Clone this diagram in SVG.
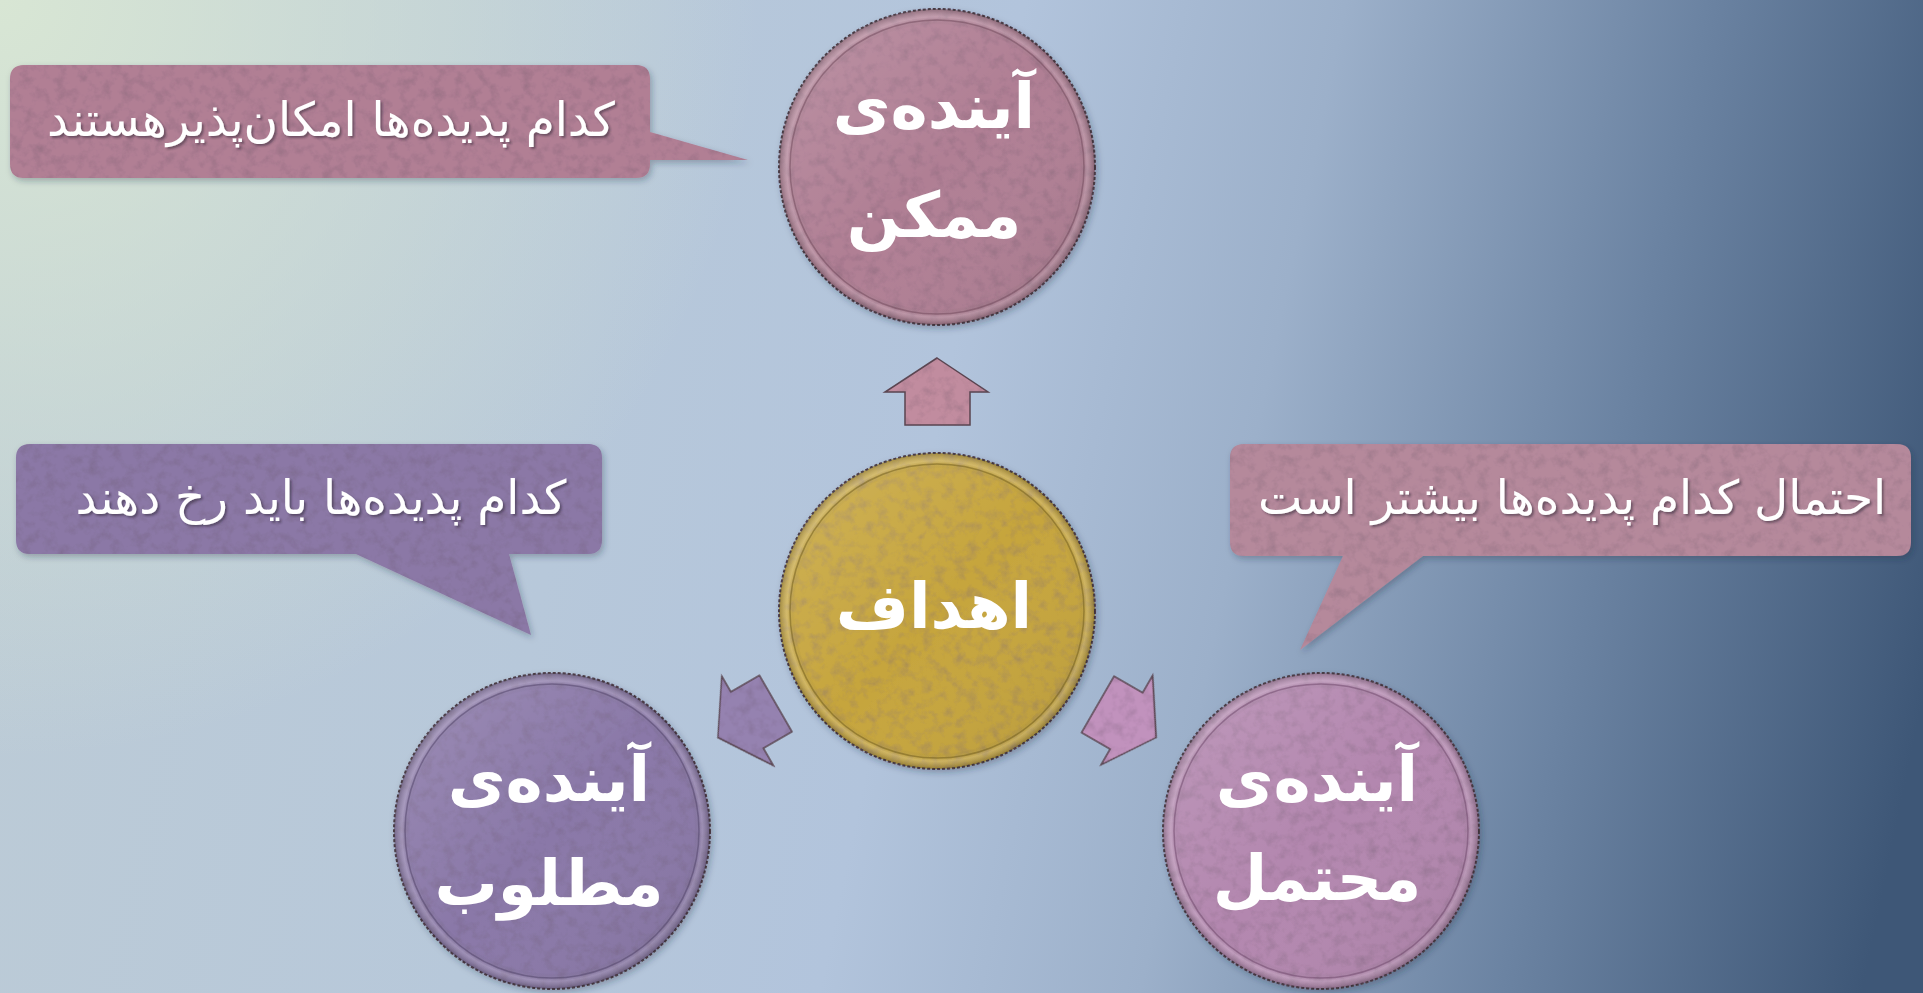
<svg xmlns="http://www.w3.org/2000/svg" width="1923" height="993" viewBox="0 0 1923 993">
<defs>
  <linearGradient id="bg" gradientUnits="userSpaceOnUse" x1="0" y1="300" x2="1923" y2="700">
    <stop offset="0" stop-color="#bccbd6"/>
    <stop offset="0.3" stop-color="#b7c8da"/>
    <stop offset="0.48" stop-color="#b2c4dc"/>
    <stop offset="0.64" stop-color="#9cb0ca"/>
    <stop offset="0.82" stop-color="#6b83a2"/>
    <stop offset="1" stop-color="#3e5777"/>
  </linearGradient>
  <radialGradient id="glow" gradientUnits="userSpaceOnUse" cx="0" cy="0" r="760">
    <stop offset="0" stop-color="#d8e6d4" stop-opacity="1"/>
    <stop offset="1" stop-color="#d8e6d4" stop-opacity="0"/>
  </radialGradient>
  <radialGradient id="rim" cx="0.5" cy="0.5" r="0.5">
    <stop offset="0.9" stop-color="#000" stop-opacity="0"/>
    <stop offset="0.95" stop-color="#fff" stop-opacity="0.18"/>
    <stop offset="1" stop-color="#000" stop-opacity="0.25"/>
  </radialGradient>
  <linearGradient id="shine" x1="0" y1="0" x2="1" y2="1">
    <stop offset="0" stop-color="#fff" stop-opacity="0.16"/>
    <stop offset="0.5" stop-color="#fff" stop-opacity="0"/>
    <stop offset="1" stop-color="#000" stop-opacity="0.1"/>
  </linearGradient>
  <filter id="tex" x="-5%" y="-5%" width="110%" height="110%">
    <feTurbulence type="fractalNoise" baseFrequency="0.09" numOctaves="4" seed="7" result="n"/>
    <feColorMatrix in="n" type="matrix" values="0 0 0 0 0.15  0 0 0 0 0.1  0 0 0 0 0.15  0.8 0 0 0 -0.36" result="spots"/>
    <feComposite in="spots" in2="SourceGraphic" operator="in" result="s2"/>
    <feMerge><feMergeNode in="SourceGraphic"/><feMergeNode in="s2"/></feMerge>
  </filter>
  <filter id="shadow" x="-10%" y="-10%" width="130%" height="130%">
    <feDropShadow dx="2" dy="3" stdDeviation="3" flood-color="#203040" flood-opacity="0.3"/>
  </filter>
  <filter id="tshadow" x="-5%" y="-20%" width="110%" height="140%">
    <feDropShadow dx="2" dy="2" stdDeviation="1.2" flood-color="#2a2030" flood-opacity="0.5"/>
  </filter>
  <path id="arrow" d="M937,358 L988,392 L970,392 L970,425 L905,425 L905,392 L885,392 Z"/>
</defs>
<style>
  .edge { stroke: #4a3a44; stroke-width: 2; stroke-dasharray: 3 2; }
  .inner { fill: none; stroke-width: 1.5; stroke-opacity: 0.5; }
  .big { font-family: "DejaVu Sans", sans-serif; font-weight: bold; font-size: 63px; fill: #ffffff; text-anchor: middle; }
  .call { font-family: "DejaVu Sans", sans-serif; font-size: 47px; fill: #ffffff; text-anchor: middle; }
  .arr { stroke: #5a4550; stroke-width: 1.5; }
</style>

<rect width="1923" height="993" fill="url(#bg)"/>
<rect width="1923" height="993" fill="url(#glow)"/>

<g id="connectors">
  <use href="#arrow" fill="#c18c9f" class="arr" filter="url(#tex)"/>
  <use href="#arrow" fill="#c192bd" class="arr" transform="rotate(120 937 611)" filter="url(#tex)"/>
  <use href="#arrow" fill="#9582b0" class="arr" transform="rotate(-120 937 611)" filter="url(#tex)"/>
</g>

<g id="callout-possible" filter="url(#shadow)">
  <path d="M24,65 H636 Q650,65 650,79 V132 L748,160 L650,160 V164 Q650,178 636,178 H24 Q10,178 10,164 V79 Q10,65 24,65 Z" fill="#b17f94" filter="url(#tex)"/>
  <text class="call" x="331" y="136" direction="rtl" filter="url(#tshadow)">کدام پدیده‌ها امکان‌پذیرهستند</text>
</g>

<g id="callout-desired" filter="url(#shadow)">
  <path d="M30,444 H588 Q602,444 602,458 V540 Q602,554 588,554 H509 L531,635 L356,554 H30 Q16,554 16,540 V458 Q16,444 30,444 Z" fill="#8b78a6" filter="url(#tex)"/>
  <text class="call" x="321" y="514" direction="rtl" filter="url(#tshadow)">کدام پدیده‌ها باید رخ دهند</text>
</g>

<g id="callout-probable" filter="url(#shadow)">
  <path d="M1244,444 H1897 Q1911,444 1911,458 V542 Q1911,556 1897,556 H1423 L1300,650 L1343,556 H1244 Q1230,556 1230,542 V458 Q1230,444 1244,444 Z" fill="#b5899b" filter="url(#tex)"/>
  <text class="call" x="1572" y="514" direction="rtl" filter="url(#tshadow)">احتمال کدام پدیده‌ها بیشتر است</text>
</g>

<g id="node-possible" filter="url(#shadow)">
  <circle cx="937" cy="167" r="158" fill="#b07f94" class="edge" filter="url(#tex)"/>
  <circle cx="937" cy="167" r="158" fill="url(#rim)"/>
  <circle cx="937" cy="167" r="158" fill="url(#shine)"/>
  <circle cx="937" cy="167" r="147" class="inner" stroke="#6e4558"/>
  <text class="big" x="934" y="128" direction="rtl">آینده‌ی</text>
  <text class="big" x="934" y="237" direction="rtl">ممکن</text>
</g>

<g id="node-goals" filter="url(#shadow)">
  <circle cx="937" cy="611" r="158" fill="#c6a53c" class="edge" filter="url(#tex)"/>
  <circle cx="937" cy="611" r="158" fill="url(#rim)"/>
  <circle cx="937" cy="611" r="158" fill="url(#shine)"/>
  <circle cx="937" cy="611" r="147" class="inner" stroke="#6e5a18"/>
  <text class="big" x="934" y="628" direction="rtl" font-size="68">اهداف</text>
</g>

<g id="node-desired" filter="url(#shadow)">
  <circle cx="552" cy="831" r="158" fill="#8a78a8" class="edge" filter="url(#tex)"/>
  <circle cx="552" cy="831" r="158" fill="url(#rim)"/>
  <circle cx="552" cy="831" r="158" fill="url(#shine)"/>
  <circle cx="552" cy="831" r="147" class="inner" stroke="#4e3f66"/>
  <text class="big" x="549" y="801" direction="rtl">آینده‌ی</text>
  <text class="big" x="549" y="905" direction="rtl" font-size="56">مطلوب</text>
</g>

<g id="node-probable" filter="url(#shadow)">
  <circle cx="1321" cy="831" r="158" fill="#b387af" class="edge" filter="url(#tex)"/>
  <circle cx="1321" cy="831" r="158" fill="url(#rim)"/>
  <circle cx="1321" cy="831" r="158" fill="url(#shine)"/>
  <circle cx="1321" cy="831" r="147" class="inner" stroke="#6c4468"/>
  <text class="big" x="1317" y="801" direction="rtl">آینده‌ی</text>
  <text class="big" x="1317" y="900" direction="rtl" font-size="58">محتمل</text>
</g>
</svg>
